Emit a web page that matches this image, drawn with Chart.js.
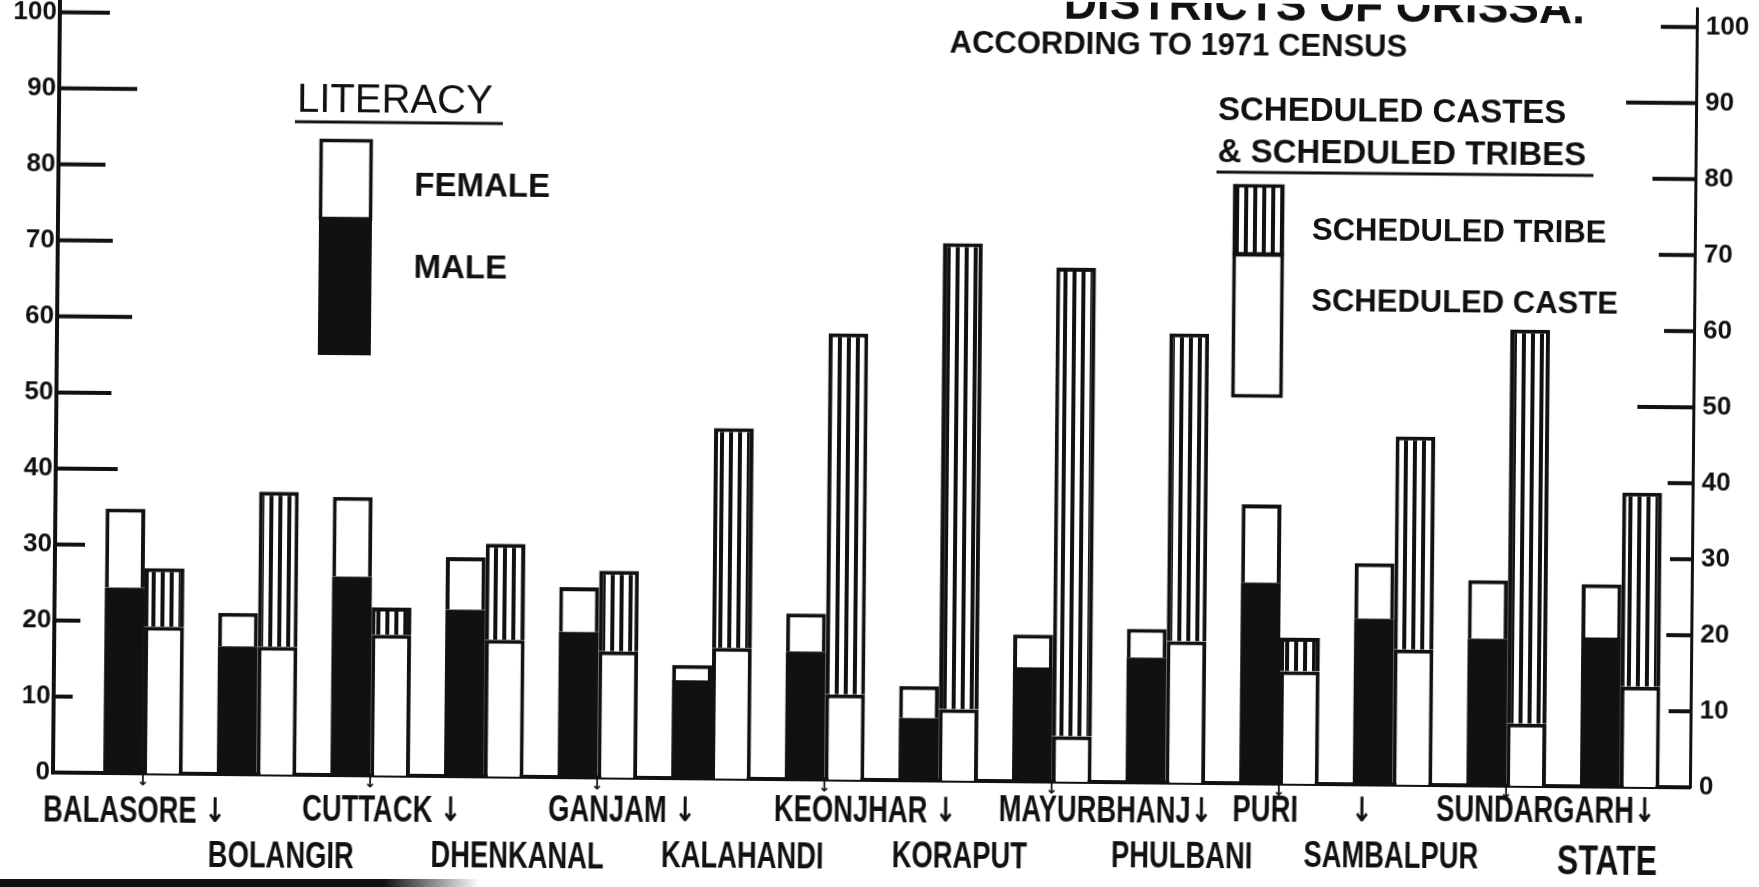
<!DOCTYPE html>
<html><head><meta charset="utf-8">
<script src="https://cdn.jsdelivr.net/npm/chart.js@4.4.1/dist/chart.umd.min.js"></script>
<style>
html,body{margin:0;padding:0;background:#fff;overflow:hidden;width:1759px;height:887px;}
#wrap{position:absolute;left:0;top:0;width:1759px;height:887px;transform:rotate(0.52deg);transform-origin:50% 50%;}
canvas{display:block;}
#scan{position:absolute;left:0;top:879px;width:480px;height:8px;background:linear-gradient(to right,#111 0%,#111 80%,rgba(17,17,17,0) 100%);}
</style></head>
<body><div id="wrap"><canvas id="c" width="1759" height="887"></canvas></div><div id="scan"></div>
<script>
// ---- data ----
const categories = ['BALASORE','BOLANGIR','CUTTACK','DHENKANAL','GANJAM','KALAHANDI','KEONJHAR','KORAPUT','MAYURBHANJ','PHULBANI','PURI','SAMBALPUR','SUNDARGARH','STATE'];
const tickLabels = ['BALASORE \u2193','BOLANGIR','CUTTACK \u2193','DHENKANAL','GANJAM \u2193','KALAHANDI','KEONJHAR \u2193','KORAPUT','MAYURBHANJ\u2193','PHULBANI','PURI       \u2193','SAMBALPUR','SUNDARGARH\u2193','STATE'];
const maleLit    = [24.4, 16.8, 26.1, 21.9, 19.1, 12.9, 16.8,  8.2, 15.0, 16.4, 26.4, 21.8, 19.3, 19.6];
const femaleLit  = [10.4,  4.4, 10.5,  6.9,  5.9,  2.0,  5.0,  4.2,  4.3,  3.8, 10.3,  7.3,  7.7,  7.0];
const schedCaste = [19.3, 16.8, 18.5, 18.0, 16.6, 17.2, 11.2,  9.4,  6.0, 18.6, 14.8, 17.8,  8.2, 13.2];
const schedTribe = [ 7.7, 20.4,  3.6, 12.6, 10.6, 28.9, 47.5, 61.3, 61.6, 40.5,  4.4, 28.0, 51.8, 25.5];
const yTickValues = [0,10,20,30,40,50,60,70,80,90,100];

// ---- styles ----
const INK = '#111';
const SANS = '"Liberation Sans", Arial, sans-serif';
const ARROW_FONT = '"DejaVu Sans", sans-serif';
const LEFT_TICK_LEN  = {10:19, 20:26, 30:30, 40:62, 50:55, 60:75, 70:55, 80:47, 90:78, 100:50};
const RIGHT_TICK_LEN = {10:22, 20:25, 30:22, 40:25, 50:56, 60:30, 70:36, 80:43, 90:70, 100:36};
const LABEL_DX = [-8, 25, 12, 34, 25, 32, 41, 22, 54, 17, 24, -1, 40, -12];   // hand-lettered label offsets
const LABEL_ROW_Y = [812, 858];   // centre of upper / lower label row
const LABEL_SQUEEZE = 0.76;
const TILT = 0.0091;              // keeps the label rows level on the tilted sheet
const SHEET_CX = 879.5;

function stripePattern(ctx){
  const c = document.createElement('canvas'); c.width = 9; c.height = 4;
  const g = c.getContext('2d');
  g.fillStyle = '#fff'; g.fillRect(0,0,9,4);
  g.fillStyle = INK; g.fillRect(0,0,4,4);
  return ctx.createPattern(c,'repeat');
}

const canvas = document.getElementById('c');
const ctx = canvas.getContext('2d');
const STRIPES = stripePattern(ctx);
const toXY = arr => arr.map((v,i)=>({x:i, y:v}));

function drawLabel(ctx, text, cx, cy, size){
  const parts = text.split('\u2193');
  const nameFont = 'bold ' + size + 'px ' + SANS;
  const arrowFont = 'bold ' + Math.round(size*0.95) + 'px ' + ARROW_FONT;
  ctx.font = nameFont; const w1 = ctx.measureText(parts[0]).width;
  let w2 = 0;
  if (parts.length > 1) { ctx.font = arrowFont; w2 = ctx.measureText('\u2193').width; }
  ctx.save(); ctx.translate(cx, cy); ctx.scale(LABEL_SQUEEZE, 1);
  ctx.textAlign = 'left'; ctx.textBaseline = 'middle';
  const x0 = -(w1 + w2)/2;
  ctx.font = nameFont; ctx.fillText(parts[0], x0, 0);
  if (parts.length > 1) { ctx.font = arrowFont; ctx.fillText('\u2193', x0 + w1, 0); }
  ctx.restore();
}

const deco = {
  id:'deco',
  afterDraw(chart){
    const {ctx, chartArea:a, scales} = chart;
    const y = scales.y, x = scales.x;
    ctx.save();
    ctx.strokeStyle = INK; ctx.fillStyle = INK; ctx.lineCap = 'butt';
    const line = (x1,y1,x2,y2,w)=>{ctx.lineWidth=w;ctx.beginPath();ctx.moveTo(x1,y1);ctx.lineTo(x2,y2);ctx.stroke();};
    // inner tick marks
    yTickValues.forEach(v=>{
      const py = y.getPixelForValue(v);
      if (LEFT_TICK_LEN[v]) line(a.left, py, a.left+LEFT_TICK_LEN[v], py, 4);
      if (RIGHT_TICK_LEN[v]) line(a.right-RIGHT_TICK_LEN[v], py, a.right, py, 4);
    });
    // small pointers below the baseline
    ctx.font = 'bold 15px ' + ARROW_FONT; ctx.textAlign='center'; ctx.textBaseline='top';
    categories.forEach((c,i)=>{ if (i%2===0 && i<13) ctx.fillText('\u2193', x.getPixelForValue(i), a.bottom+1); });

    // category labels in two staggered rows
    tickLabels.forEach((lab,i)=>{
      const isState = i === categories.length-1;
      const px = x.getPixelForValue(i) + LABEL_DX[i];
      const py = LABEL_ROW_Y[i%2] + (isState ? 5 : 0) - (px - SHEET_CX) * TILT;
      drawLabel(ctx, lab, px, py, isState ? 42 : 36);
    });

    // title (cut off at the top edge in the original)
    ctx.textBaseline='alphabetic'; ctx.textAlign='right';
    ctx.font = 'bold 46px ' + SANS;
    ctx.fillText('DISTRICTS OF ORISSA.', 1581, 17);
    ctx.textBaseline='middle'; ctx.textAlign='left';
    ctx.font = 'bold 31px ' + SANS;
    ctx.fillText('ACCORDING TO 1971 CENSUS', 946, 43);

    // literacy legend
    ctx.font = '40px ' + SANS;
    ctx.fillText('LITERACY', 294, 106);
    line(292,127,500,127,3);
    ctx.fillStyle='#fff'; ctx.fillRect(317,144,53,78); ctx.fillStyle=INK;
    ctx.lineWidth=3.5; ctx.strokeRect(318.5,145.5,50,78);
    ctx.fillRect(317,222,53,138);
    ctx.font = 'bold 33px ' + SANS;
    ctx.fillText('FEMALE', 412, 191);
    ctx.fillText('MALE', 412, 273);

    // scheduled castes / tribes legend
    ctx.fillText('SCHEDULED CASTES', 1215, 108);
    ctx.fillText('& SCHEDULED TRIBES', 1215, 150);
    line(1214,169,1591,169,3);
    ctx.fillStyle = STRIPES; ctx.fillRect(1231,181,51,70);
    ctx.fillStyle = INK;
    ctx.lineWidth=3.5; ctx.strokeRect(1232.5,182.5,48,68); ctx.strokeRect(1232.5,251.5,48,141);
    ctx.font = 'bold 31px ' + SANS;
    ctx.fillText('SCHEDULED TRIBE', 1310, 227);
    ctx.fillText('SCHEDULED CASTE', 1310, 298);
    ctx.restore();
  }
};

const yTickOpts = (pad)=>({stepSize:10, includeBounds:false, padding:pad, color:INK,
  font:{family:SANS, size:26, weight:'bold'}, callback:v=> (v%10===0 ? String(v) : '')});
const OUTLINE = {top:4,left:4,right:4,bottom:0};

new Chart(ctx, {
  type:'bar',
  data:{ datasets:[
    {label:'MALE', data:toXY(maleLit), stack:'literacy', backgroundColor:INK, borderColor:INK, borderWidth:0},
    {label:'FEMALE', data:toXY(femaleLit), stack:'literacy', backgroundColor:'#fff', borderColor:INK,
      borderWidth:OUTLINE, borderSkipped:false},
    {label:'SCHEDULED CASTE', data:toXY(schedCaste), stack:'scst', backgroundColor:'#fff', borderColor:INK,
      borderWidth:OUTLINE, borderSkipped:false},
    {label:'SCHEDULED TRIBE', data:toXY(schedTribe), stack:'scst', backgroundColor:STRIPES, borderColor:INK,
      borderWidth:OUTLINE, borderSkipped:false}
  ]},
  options:{
    responsive:false, animation:false, devicePixelRatio:1,
    layout:{padding:0},
    plugins:{legend:{display:false}, tooltip:{enabled:false}, title:{display:false}},
    datasets:{bar:{categoryPercentage:0.70, barPercentage:1.0}},
    scales:{
      x:{type:'linear', min:-0.792, max:13.618, stacked:true, offset:false,
        grid:{display:false, drawTicks:false}, border:{display:true, color:INK, width:4},
        afterBuildTicks:s=>{ s.ticks = categories.map((_,i)=>({value:i})); },
        afterFit:s=>{ s.height = 107; },
        ticks:{display:false, autoSkip:false, maxRotation:0, minRotation:0}
      },
      y:{position:'left', min:0, max:102.6, stacked:true,
        grid:{display:false, drawTicks:false}, border:{display:true, color:INK, width:4},
        afterFit:s=>{ s.width = 56; s.paddingTop = 0; s.paddingBottom = 0; },
        ticks:yTickOpts(3)},
      y2:{position:'right', min:0, max:102.6,
        grid:{display:false, drawTicks:false}, border:{display:true, color:INK, width:3},
        afterFit:s=>{ s.width = 66; s.paddingTop = 0; s.paddingBottom = 0; },
        ticks:yTickOpts(9)}
    }
  },
  plugins:[deco]
});
</script>
</body></html>
